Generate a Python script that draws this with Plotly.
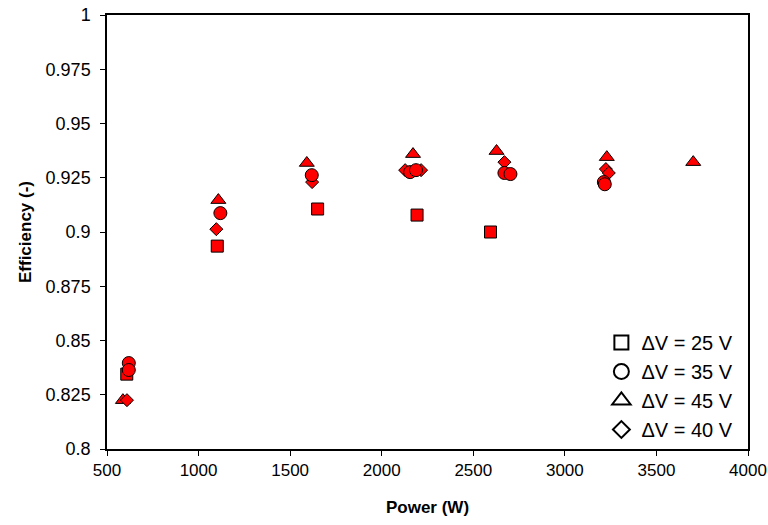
import plotly.graph_objects as go

# ---- data ----
p25 = [608, 1102, 1650, 2193, 2594]
e25 = [0.8345, 0.8935, 0.9106, 0.9078, 0.9000]

p45 = [587, 1108, 1591, 2171, 2627, 3229, 3701]
e45 = [0.8225, 0.9147, 0.9318, 0.9359, 0.9373, 0.9345, 0.9322]

p40 = [609, 1097, 1620, 2128, 2215, 2670, 3224, 3240]
e40 = [0.8225, 0.9013, 0.9230, 0.9285, 0.9285, 0.9322, 0.9290, 0.9272]

p35 = [619, 619, 1119, 1618, 2155, 2187, 2670, 2703, 3213, 3218]
e35 = [0.8396, 0.8364, 0.9087, 0.9262, 0.9276, 0.9285, 0.9272, 0.9267, 0.9230, 0.9220]

legend_names = ["ΔV = 25 V", "ΔV = 35 V", "ΔV = 45 V", "ΔV = 40 V"]
x_ticks = [500, 1000, 1500, 2000, 2500, 3000, 3500, 4000]
y_ticks = [0.8, 0.825, 0.85, 0.875, 0.9, 0.925, 0.95, 0.975, 1.0]
y_ticktext = ["0.8", "0.825", "0.85", "0.875", "0.9", "0.925", "0.95", "0.975", "1"]

FONT = "Liberation Sans, Arial, sans-serif"
RED = "#FF0000"

fig = go.Figure()

def data_trace(x, y, symbol, size):
    fig.add_trace(go.Scatter(
        x=x, y=y, mode="markers", showlegend=False, hoverinfo="x+y",
        marker=dict(symbol=symbol, size=size, color=RED,
                    line=dict(color="black", width=1))))

data_trace(p25, e25, "square", 12)
data_trace(p45, e45, "triangle-up", 13)
data_trace(p40, e40, "diamond", 10)
data_trace(p35, e35, "circle", 13)

# legend entries (hollow black symbols as in the reference)
for name, sym, sz in zip(legend_names,
                         ["square", "circle", "triangle-up", "diamond"],
                         [14, 15, 16, 13]):
    fig.add_trace(go.Scatter(
        x=[None], y=[None], mode="markers", name=name,
        marker=dict(symbol=sym, size=sz, color="white",
                    line=dict(color="black", width=2))))

axis_common = dict(
    showgrid=False, zeroline=False, showline=True, linecolor="black",
    linewidth=1.5, mirror=True, ticks="outside", ticklen=5,
    tickcolor="black", tickwidth=1, automargin=False,
    ticklabeloverflow="allow",
)

fig.update_xaxes(range=[500, 4000], tickvals=x_ticks,
                 tickfont=dict(family=FONT, size=17, color="black"),
                 title=dict(text="<b>Power (W)</b>",
                            font=dict(family=FONT, size=17, color="black"),
                            standoff=22),
                 **axis_common)
fig.update_yaxes(range=[0.8, 1.0], tickvals=y_ticks, ticktext=y_ticktext,
                 tickfont=dict(family=FONT, size=18, color="black"),
                 ticklabelstandoff=6,
                 title=dict(text="<b>Efficiency (-)</b>",
                            font=dict(family=FONT, size=17, color="black"),
                            standoff=10),
                 **axis_common)

fig.update_layout(
    width=768, height=525,
    margin=dict(l=107, r=20, t=15, b=76),
    paper_bgcolor="white", plot_bgcolor="white",
    font=dict(family=FONT, color="black"),
    legend=dict(x=0.985, y=0.0, xanchor="right", yanchor="bottom",
                font=dict(family=FONT, size=20, color="black"),
                bgcolor="rgba(0,0,0,0)", borderwidth=0,
                itemwidth=30, tracegroupgap=0),
)

fig.write_html("out.html")
